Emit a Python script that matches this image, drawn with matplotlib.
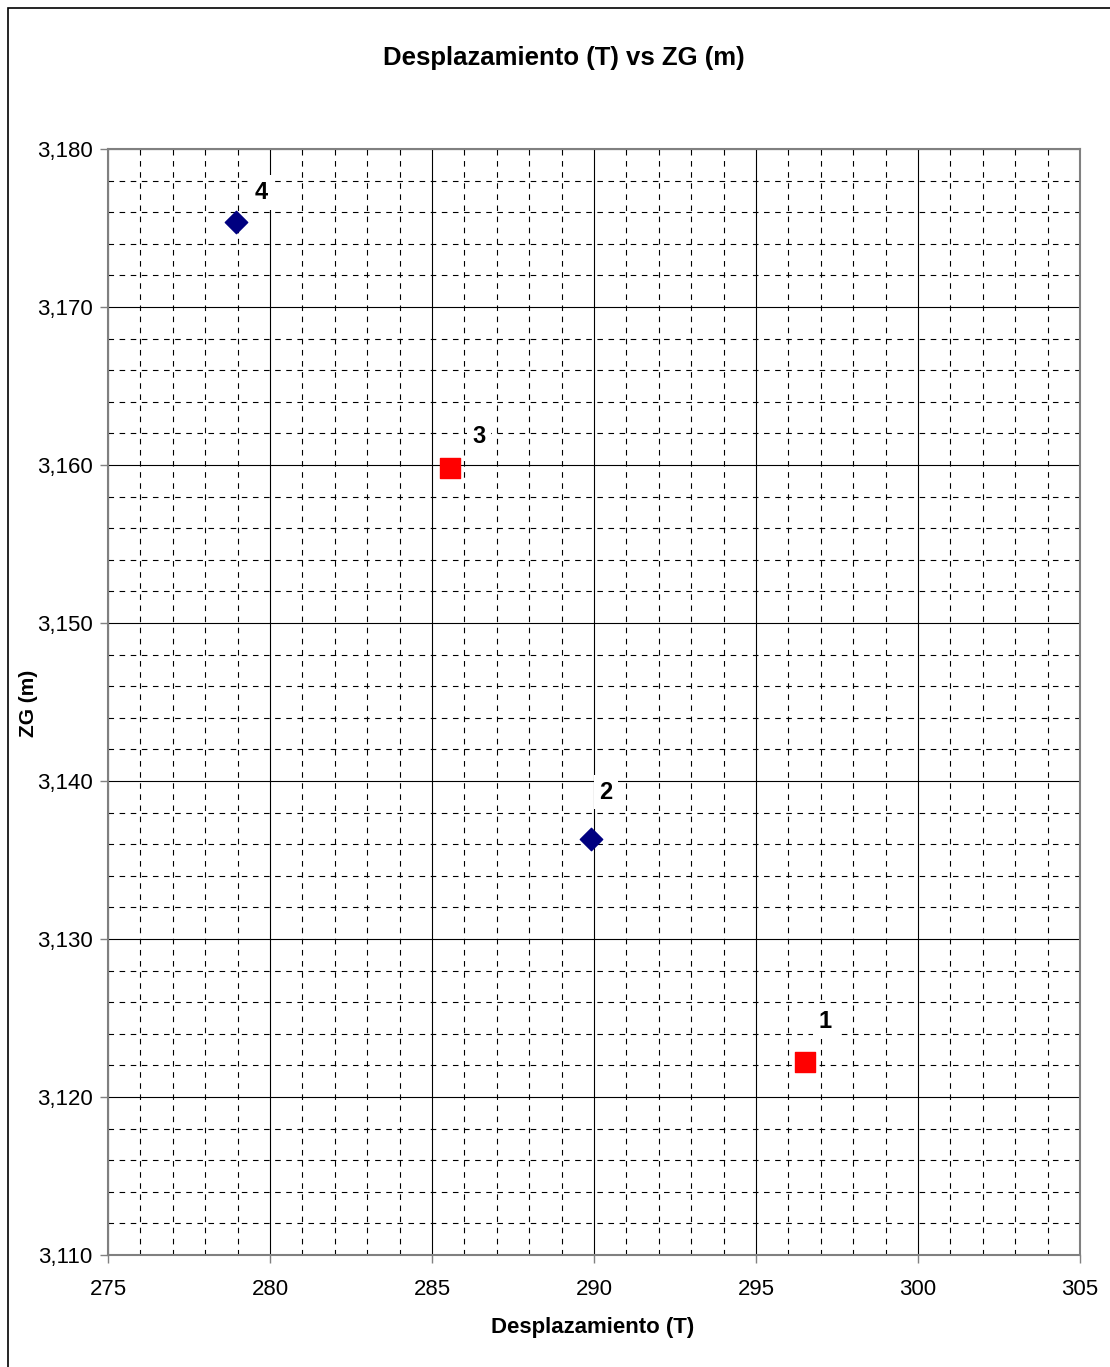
import matplotlib
matplotlib.use('Agg')
import matplotlib.pyplot as plt
from matplotlib.ticker import MultipleLocator, FuncFormatter
from matplotlib.patches import Rectangle

plt.rcParams['font.family'] = ['Liberation Sans', 'DejaVu Sans']

# datos
labels = ["1", "2", "3", "4"]
desplazamiento = [296.5, 289.9, 285.55, 278.95]
zg = [3.1222, 3.1363, 3.1598, 3.1754]
serie = ["cuadro", "rombo", "cuadro", "rombo"]
# desplazamiento de las etiquetas (puntos)
label_off = [(15, 29), (11, 34), (21, 23), (18, 21)]

W, H = 1110, 1367
fig = plt.figure(figsize=(W / 100, H / 100), dpi=100)
ax = fig.add_axes([0.0973, 0.0819, 0.973 - 0.0973, 0.891 - 0.0819])

# marco exterior
fig.patches.append(Rectangle((8 / W, -0.01), 1.1, 1 - 8 / H + 0.01,
                             transform=fig.transFigure, fill=False,
                             edgecolor='black', linewidth=1.2))

ax.set_xlim(275, 305)
ax.set_ylim(3.110, 3.180)
ax.xaxis.set_major_locator(MultipleLocator(5))
ax.xaxis.set_minor_locator(MultipleLocator(1))
ax.yaxis.set_major_locator(MultipleLocator(0.010))
ax.yaxis.set_minor_locator(MultipleLocator(0.002))
ax.yaxis.set_major_formatter(FuncFormatter(lambda v, p: f"{v:.3f}".replace('.', ',')))

ax.grid(which='major', color='black', linewidth=0.8, linestyle='-')
ax.grid(which='minor', color='black', linewidth=0.8, linestyle=(0, (5, 5)))
ax.set_axisbelow(True)
ax.tick_params(which='major', direction='out', length=6, width=1, labelsize=16,
               color='#808080', pad=5)
ax.tick_params(which='minor', length=0)
ax.tick_params(axis='x', pad=11)
for s in ax.spines.values():
    s.set_color('#808080')
    s.set_linewidth(1.5)

for x, y, lab, sr, off in zip(desplazamiento, zg, labels, serie, label_off):
    if sr == "cuadro":
        ax.scatter(x, y, marker='s', s=190, color='#FF0000', zorder=3)
    else:
        ax.scatter(x, y, marker='D', s=130, color='#000080', zorder=3)
    ax.annotate(lab, (x, y), xytext=off, textcoords='offset points',
                ha='center', va='center', fontsize=17, fontweight='bold',
                bbox=dict(facecolor='white', edgecolor='none', pad=4), zorder=4)

fig.text(564 / W, 1 - 58 / H, "Desplazamiento (T) vs ZG (m)", fontsize=18.5,
         fontweight='bold', ha='center', va='center')
fig.text(593 / W, 1 - 1328 / H, "Desplazamiento (T)", fontsize=16,
         fontweight='bold', ha='center', va='center')
fig.text(28 / W, 1 - 703 / H, "ZG (m)", fontsize=15, fontweight='bold',
         ha='center', va='center', rotation=90)

fig.savefig("out.png", dpi=100)
